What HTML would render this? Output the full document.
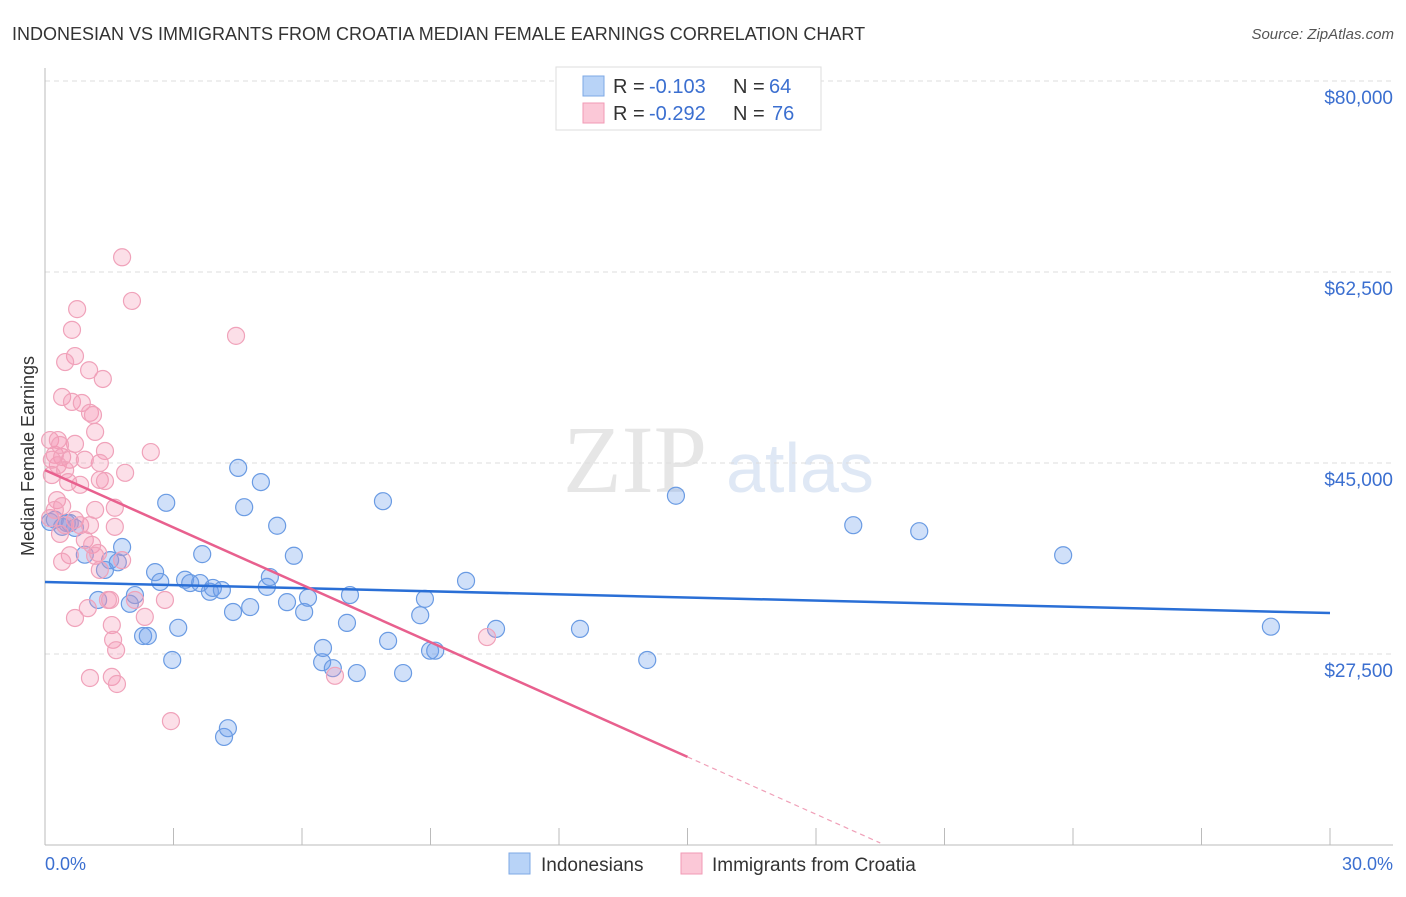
<!DOCTYPE html>
<html><head><meta charset="utf-8"><style>
body{margin:0;background:#fff;width:1406px;height:892px;overflow:hidden;font-family:"Liberation Sans",sans-serif}
</style></head><body>
<svg id="c" width="1406" height="892" xmlns="http://www.w3.org/2000/svg">
<text x="12" y="40" font-size="18" fill="#333">INDONESIAN VS IMMIGRANTS FROM CROATIA MEDIAN FEMALE EARNINGS CORRELATION CHART</text>
<text x="1394" y="39" font-size="15" fill="#555" font-style="italic" text-anchor="end">Source: ZipAtlas.com</text>
<text x="635" y="492" font-size="96" fill="#e6e6e6" font-family="Liberation Serif,serif" text-anchor="middle">ZIP</text>
<text x="800" y="492" font-size="70" fill="#dfe8f5" text-anchor="middle">atlas</text>
<g id="grid"></g>
<g id="axes"></g>
<g id="pts"></g>
<g id="lines"></g>
<text transform="translate(34,456) rotate(-90)" font-size="18" fill="#333" text-anchor="middle">Median Female Earnings</text>
<text x="45" y="870" font-size="18" fill="#3b6fd0">0.0%</text>
<text x="1393" y="870" font-size="18" fill="#3b6fd0" text-anchor="end">30.0%</text>
<g>
<rect x="556" y="67" width="265" height="63" fill="#fff" stroke="#ddd"/>
<rect x="583" y="76" width="21" height="20" fill="#b8d3f7" stroke="#7ea8e6"/>
<rect x="583" y="103" width="21" height="20" fill="#fbc8d7" stroke="#f19ab4"/>
<text x="613" y="93" font-size="20" fill="#333">R = </text><text x="649" y="93" font-size="20" fill="#3b6fd0">-0.103</text>
<text x="733" y="93" font-size="20" fill="#333">N = </text><text x="769" y="93" font-size="20" fill="#3b6fd0">64</text>
<text x="613" y="120" font-size="20" fill="#333">R = </text><text x="649" y="120" font-size="20" fill="#3b6fd0">-0.292</text>
<text x="733" y="120" font-size="20" fill="#333">N = </text><text x="772" y="120" font-size="20" fill="#3b6fd0">76</text>
</g>
<g>
<rect x="509" y="853" width="21" height="21" fill="#b8d3f7" stroke="#7ea8e6"/>
<text x="541" y="871" font-size="19" fill="#333">Indonesians</text>
<rect x="681" y="853" width="21" height="21" fill="#fbc8d7" stroke="#f19ab4"/>
<text x="712" y="871" font-size="19" fill="#333">Immigrants from Croatia</text>
</g>
</svg>
<script>
const yTicks=[80000,62500,45000,27500];
const yTickLabels=["$80,000","$62,500","$45,000","$27,500"];
const xTicks=[0,3,6,9,12,15,18,21,24,27,30];
const blueX=[0.12,0.23,0.40,0.51,0.70,0.93,1.24,1.40,1.52,1.70,1.80,1.98,2.10,2.29,2.40,2.57,2.69,2.83,2.97,3.11,3.27,3.39,3.62,3.67,3.85,3.92,4.13,4.39,4.51,4.65,4.79,5.04,5.18,5.25,5.42,5.65,5.81,6.05,6.14,6.47,6.49,6.72,7.05,7.12,7.28,7.89,8.01,8.36,8.76,8.87,8.99,9.11,9.83,10.53,12.49,14.06,14.73,18.87,20.41,23.77,28.62,4.18,4.27,0.58];
const blueY=[39600,39800,39150,39500,39050,36600,32450,35200,36100,35900,37300,32100,32900,29150,29150,35000,34100,41350,26950,29900,34300,34000,34000,36650,33200,33550,33350,31350,44550,40950,31800,43250,33650,34550,39250,32250,36500,31350,32650,26750,28050,26200,30350,32900,25750,41500,28700,25750,31050,32550,27800,27800,34200,29800,29800,26950,42000,39300,38750,36550,30000,19900,20700,39500];
const pinkX=[1.80,2.03,4.46,0.75,0.63,0.70,0.47,1.03,1.35,0.40,0.63,0.86,1.05,1.12,1.17,0.12,0.70,1.40,2.47,0.23,0.40,0.58,0.30,0.47,1.28,1.87,0.16,0.54,0.82,1.28,1.40,0.28,0.40,1.17,1.63,0.12,0.70,0.82,1.05,1.63,0.35,0.93,1.10,0.58,1.24,1.80,0.40,1.17,1.52,2.10,2.80,0.70,1.00,2.33,1.56,1.59,1.66,10.32,6.77,1.05,1.56,1.68,2.94,0.30,0.16,0.93,0.35,0.23,0.47,1.28,1.47];
const pinkY=[63850,59850,56650,59100,57200,54800,54250,53500,52700,51050,50600,50500,49600,49400,47850,47100,46750,46100,46000,45750,45550,45300,44800,44350,45000,44100,43900,43250,43000,43450,43350,41600,41050,40700,40900,39950,39800,39300,39300,39150,38500,37950,37500,36550,36750,36100,35950,36500,32450,32450,32450,30800,31700,30900,30150,28800,27850,29050,25500,25300,25400,24750,21350,47100,45300,45300,46650,40700,39300,35200,32450];
const blueTrend=[34100,31250];
const pinkTrend=[44350,-1752];
const X=p=>45+p*(1285/30);
const Y=v=>463-(v-45000)/91.63;
const NS="http://www.w3.org/2000/svg";
function mk(parent,tag,attrs){const e=document.createElementNS(NS,tag);for(const k in attrs)e.setAttribute(k,attrs[k]);document.getElementById(parent).appendChild(e);return e;}
yTicks.forEach((v,i)=>{
 const l=mk('grid','line',{x1:45,x2:1393,y1:Y(v),y2:Y(v),stroke:'#ddd','stroke-dasharray':'5,4'});
 
 
 const t=mk('grid','text',{x:1393,y:Y(v)+23,'font-size':19,fill:'#3b6fd0','text-anchor':'end'});
 t.textContent=yTickLabels[i];
 
 
});
const ax=mk('axes','line',{x1:45,x2:45,y1:68,y2:845,stroke:'#bbb'});


const bx=mk('axes','line',{x1:45,x2:1393,y1:845,y2:845,stroke:'#bbb'});


xTicks.forEach(p=>{
 const t=mk('axes','line',{x1:X(p),x2:X(p),y1:828,y2:845,stroke:'#bbb'});
 
 
});
blueX.forEach((p,i)=>{
 const c=mk('pts','circle',{cx:X(p),cy:Y(blueY[i]),r:8.5,fill:'rgba(110,160,235,0.32)',stroke:'#6a9be3','stroke-width':1.2});
 
 
});
pinkX.forEach((p,i)=>{
 const c=mk('pts','circle',{cx:X(p),cy:Y(pinkY[i]),r:8.5,fill:'rgba(245,150,180,0.3)',stroke:'#f0a2ba','stroke-width':1.2});
 
 
});
const bl=mk('lines','line',{x1:X(0),y1:Y(blueTrend[0]),x2:X(30),y2:Y(blueTrend[1]),stroke:'#2a6fd6','stroke-width':2.5});


const pe=15,pd=19.5;
const pl=mk('lines','line',{x1:X(0),y1:Y(pinkTrend[0]),x2:X(pe),y2:Y(pinkTrend[0]+pinkTrend[1]*pe),stroke:'#e8608e','stroke-width':2.5});


const pdl=mk('lines','line',{x1:X(pe),y1:Y(pinkTrend[0]+pinkTrend[1]*pe),x2:X(pd),y2:Y(pinkTrend[0]+pinkTrend[1]*pd),stroke:'#f0a0b8','stroke-width':1.2,'stroke-dasharray':'5,4'});


</script>
</body></html>
